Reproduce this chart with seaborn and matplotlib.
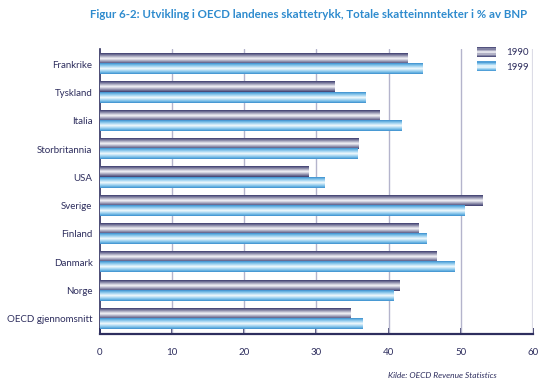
import numpy as np
import pandas as pd
import matplotlib
matplotlib.use("Agg")
import matplotlib.pyplot as plt
import seaborn as sns
from matplotlib.colors import LinearSegmentedColormap
from matplotlib.legend_handler import HandlerBase
from matplotlib.patches import Rectangle, Patch

# ---- data ----
countries = ["Frankrike", "Tyskland", "Italia", "Storbritannia", "USA",
             "Sverige", "Finland", "Danmark", "Norge", "OECD gjennomsnitt"]
years = ["1990", "1999"]
v1990 = [42.5, 32.4, 38.6, 35.7, 28.9, 52.9, 44.1, 46.5, 41.4, 34.7]
v1999 = [44.6, 36.7, 41.7, 35.6, 31.1, 50.4, 45.1, 49.0, 40.6, 36.3]
xticks = [0, 10, 20, 30, 40, 50, 60]
title = "Figur 6-2: Utvikling i OECD landenes skattetrykk, Totale skatteinnntekter i % av BNP"
source = "Kilde: OECD Revenue Statistics"

df = pd.DataFrame({
    "land": countries * 2,
    "verdi": v1990 + v1999,
    "år": [years[0]] * len(countries) + [years[1]] * len(countries),
})

sns.set_theme(style="white")
FONT = ["Lato", "DejaVu Sans"]
plt.rcParams["font.family"] = FONT
NAVY = "#2e2e5e"
BLUE_T = "#2e8bce"

cmaps = {
    "1990": LinearSegmentedColormap.from_list("c90", [
        (0.0, "#3a3a6c"), (0.12, "#6a6a90"), (0.28, "#a4a4bc"),
        (0.44, "#e2e2ea"), (0.5, "#f8f8fa"), (0.56, "#e2e2ea"),
        (0.72, "#a4a4bc"), (0.88, "#6a6a90"), (1.0, "#3a3a6c")]),
    "1999": LinearSegmentedColormap.from_list("c99", [
        (0.0, "#3a8ccc"), (0.12, "#66b2e2"), (0.28, "#9fd2f0"),
        (0.44, "#dcf0fa"), (0.5, "#f8fcfe"), (0.56, "#dcf0fa"),
        (0.72, "#9fd2f0"), (0.88, "#66b2e2"), (1.0, "#3a8ccc")]),
}
base_colors = {"1990": "#8a8aa8", "1999": "#8cc8ec"}

fig = plt.figure(figsize=(5.59, 3.85), dpi=100)
ax = fig.add_axes([99.5 / 559, 1 - 333.7 / 385, (533.3 - 99.5) / 559, (333.7 - 49) / 385])

sns.barplot(data=df, y="land", x="verdi", hue="år", order=countries,
            hue_order=years, palette=base_colors, orient="h", width=0.72,
            dodge=True, legend=False, ax=ax, saturation=1)

grad = np.linspace(0, 1, 64).reshape(-1, 1)
n = len(countries)
for i, p in enumerate(list(ax.patches)):
    yr = years[i // n]
    x0, y0 = p.get_x(), p.get_y()
    w, h = p.get_width(), p.get_height()
    if w <= 0:
        continue
    p.set_visible(False)
    ax.imshow(grad, extent=(x0, x0 + w, y0 + h, y0), cmap=cmaps[yr],
              aspect="auto", interpolation="bilinear", zorder=3)

ax.set_xlim(0, 60)
ax.set_ylim(9.523, -0.537)
ax.set_aspect("auto")

# grid lines
for t in xticks[1:-1]:
    ax.axvline(t, color="#b4b4cc", lw=1.0, zorder=1)
ax.axvline(xticks[-1], color="#dcdce6", lw=1.6, zorder=1, ymin=0.0)

for s in ["top", "right"]:
    ax.spines[s].set_visible(False)
ax.spines["left"].set_color(NAVY)
ax.spines["left"].set_linewidth(1.2)
ax.spines["bottom"].set_color(NAVY)
ax.spines["bottom"].set_linewidth(1.6)

ax.set_xticks(xticks)
ax.set_xticklabels([str(t) for t in xticks])
ax.tick_params(axis="x", direction="in", length=4, width=1.2, color=NAVY,
               pad=10, labelsize=7, labelcolor=NAVY, bottom=True)
ax.tick_params(axis="y", length=0, pad=5, labelsize=7, labelcolor=NAVY)
ax.set_xlabel("")
ax.set_ylabel("")


class GradHandler(HandlerBase):
    def __init__(self, cmap):
        super().__init__()
        self.cmap = cmap

    def create_artists(self, legend, orig_handle, xdescent, ydescent,
                       width, height, fontsize, trans):
        arts = []
        k = 8
        hh = height * 1.25
        y0 = -ydescent - (hh - height) / 2
        for j in range(k):
            c = self.cmap((j + 0.5) / k)
            r = Rectangle((-xdescent, y0 + hh * j / k), width, hh / k,
                          facecolor=c, edgecolor="none", transform=trans)
            arts.append(r)
        return arts


handles = [Patch(label=y) for y in years]
leg = ax.legend(handles=handles, labels=years,
                handler_map={handles[0]: GradHandler(cmaps["1990"]),
                             handles[1]: GradHandler(cmaps["1999"])},
                loc="upper left", bbox_to_anchor=(477 / 559, 1 - 48 / 385),
                bbox_transform=fig.transFigure, frameon=False, fontsize=7,
                handlelength=2.0, handleheight=0.9, handletextpad=1.0,
                labelspacing=0.5, borderpad=0, borderaxespad=0)
for t in leg.get_texts():
    t.set_color(NAVY)

fig.text(527 / 559, 1 - 14 / 385, title, ha="right", va="center",
         fontsize=8.3, fontweight="bold", color=BLUE_T)
fig.text(497 / 559, 1 - 376 / 385, source, ha="right", va="center",
         fontsize=6.0, style="italic", color=NAVY)

fig.savefig("out.png", dpi=100)
